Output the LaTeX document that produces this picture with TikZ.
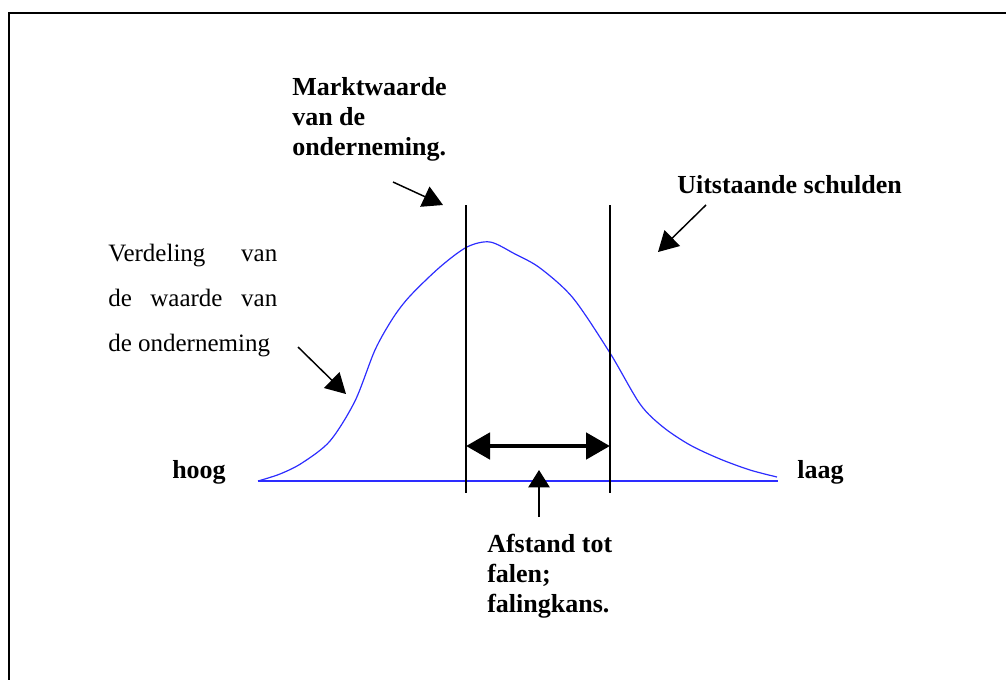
\documentclass[tikz,border=0pt]{standalone}
\usepackage{fontspec}
\setmainfont{Liberation Serif}
\usetikzlibrary{arrows.meta}
\definecolor{curveblue}{RGB}{45,45,255}
\begin{document}
\begin{tikzpicture}[x=0.75pt,y=-0.75pt,
  lbl/.style={font={\fontsize{19.5}{22.5}\bfseries\selectfont},inner sep=0pt,align=left,anchor=base west},
  txt/.style={font={\fontsize{18.75}{33.75}\selectfont},inner sep=0pt,align=left,anchor=base west},
  pointer/.style={line width=1.1pt,-{Triangle[length=15pt,width=16.5pt]}},
  thinpointer/.style={line width=1.1pt,-{Triangle[length=13pt,width=16pt]}},
  span/.style={line width=3.6pt,{Triangle[length=18pt,width=19.5pt]}-{Triangle[length=18pt,width=19.5pt]}},
  marker/.style={line width=1.1pt},
  curve/.style={curveblue,line width=0.9pt}]
\useasboundingbox (0,0) rectangle (1006,679);
\clip (0,0) rectangle (1006,679);
% frame
\draw[line width=1.7pt] (9,700) -- (9,13) -- (1030,13);
% axis and curve
\coordinate (ax1) at (258,481);
\coordinate (ax2) at (778,481);
\draw[curve] (ax1) -- (ax2);
\draw[curve] plot[smooth,tension=0.5] coordinates {(258,481) (280,474) (302,463) (330,441) (355,401) (375,350) (393,318) (410,296) (440,267) (467,247) (490,242) (515,254) (540,268) (573,298) (610,353) (640,404) (663,427) (690,445) (720,459) (750,470) (777,477)};
% vertical markers
\coordinate (l1t) at (466,205); \coordinate (l1b) at (466,493);
\coordinate (l2t) at (610,205); \coordinate (l2b) at (610,493);
\draw[marker] (l1t) -- (l1b);
\draw[marker] (l2t) -- (l2b);
% span arrow
\coordinate (s1) at (466,446); \coordinate (s2) at (610,446);
\draw[span] (s1) -- (s2);
% labels (base anchor = baseline of last line)
\node[lbl] (mw) at (292,155) {Marktwaarde\\van de\\onderneming.};
\node[lbl] (us) at (677,193) {Uitstaande schulden};
\node[txt] (vd) at (108,351) {\makebox[126.75pt][s]{Verdeling van}\\\makebox[126.75pt][s]{de waarde van}\\de onderneming};
\node[lbl] (hoog) at (172,478) {hoog};
\node[lbl] (laag) at (797,478) {laag};
\node[lbl] (af) at (487,612) {Afstand tot\\falen;\\falingkans.};
% pointers
\coordinate (mwa) at (393,182); \coordinate (mwb) at (443,205);
\draw[pointer] (mwa) -- (mwb);
\coordinate (usa) at (706,205); \coordinate (usb) at (658,252);
\draw[pointer] (usa) -- (usb);
\coordinate (vda) at (298,347); \coordinate (vdb) at (346,394);
\draw[pointer] (vda) -- (vdb);
\coordinate (afa) at (539,517); \coordinate (afb) at (539,470);
\draw[thinpointer] (afa) -- (afb);
\end{tikzpicture}
\end{document}
